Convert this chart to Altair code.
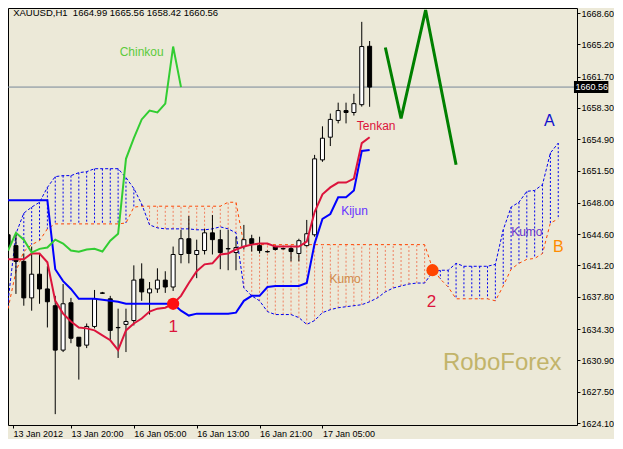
import altair as alt
import pandas as pd

# ---------------- data ----------------
opens = [1644.53, 1643.35, 1641.64, 1637.68, 1640.25, 1638.65, 1636.83, 1632.01, 1637.15, 1633.41,
         1632.55, 1634.58, 1638.22, 1637.58, 1634.47, 1634.80, 1635.22, 1639.72, 1638.22, 1638.65,
         1639.61, 1638.86, 1642.39, 1644.10, 1642.39, 1642.82, 1644.74, 1644.00, 1643.03, 1642.60,
         1643.25, 1644.10, 1643.35, 1642.71, 1643.25, 1643.03, 1643.03, 1642.50, 1643.35, 1644.53,
         1652.66, 1655.12, 1656.94, 1658.01, 1657.80, 1658.65, 1664.99]
highs = [1645.17, 1644.64, 1642.50, 1643.25, 1642.50, 1641.11, 1637.90, 1639.18, 1637.68, 1633.41,
         1634.90, 1638.54, 1638.33, 1637.90, 1636.51, 1636.51, 1641.21, 1641.43, 1639.40, 1640.89,
         1640.57, 1643.25, 1645.07, 1646.56, 1644.00, 1645.17, 1646.67, 1645.07, 1645.07, 1644.32,
         1645.60, 1644.53, 1644.32, 1642.82, 1643.35, 1643.14, 1643.25, 1644.10, 1646.14, 1653.20,
         1656.30, 1657.69, 1658.87, 1658.87, 1659.83, 1667.64, 1665.56]
lows = [1642.60, 1638.11, 1636.83, 1636.29, 1637.04, 1634.47, 1625.06, 1631.80, 1632.76, 1628.81,
        1632.23, 1634.37, 1638.11, 1633.08, 1631.16, 1631.80, 1634.69, 1637.36, 1635.87, 1638.22,
        1638.22, 1638.43, 1641.43, 1641.43, 1639.82, 1642.39, 1642.39, 1640.79, 1640.68, 1640.68,
        1642.93, 1642.71, 1642.50, 1642.60, 1642.82, 1642.93, 1641.64, 1641.64, 1643.25, 1644.32,
        1652.45, 1654.16, 1656.62, 1656.62, 1657.47, 1658.44, 1658.42]
closes = [1643.25, 1641.64, 1637.68, 1640.25, 1638.65, 1637.26, 1632.01, 1637.04, 1633.30, 1632.44,
          1634.58, 1637.58, 1638.18, 1634.15, 1634.44, 1635.12, 1639.61, 1638.33, 1638.65, 1639.61,
          1638.86, 1642.39, 1644.10, 1642.50, 1642.82, 1644.74, 1644.00, 1642.60, 1643.00, 1643.14,
          1644.00, 1643.57, 1642.82, 1642.68, 1642.93, 1643.00, 1642.71, 1643.89, 1644.64, 1652.77,
          1655.01, 1657.05, 1658.01, 1657.80, 1658.76, 1664.96, 1660.56]

tenkan = [1641.86, 1641.86, 1641.86, 1642.50, 1642.50, 1641.54, 1637.36, 1635.97, 1635.12, 1634.47,
          1634.37, 1634.15, 1633.62, 1633.08, 1632.01, 1634.15, 1634.90, 1635.44, 1636.19, 1636.51,
          1636.61, 1637.04, 1637.90, 1639.29, 1640.57, 1641.32, 1641.43, 1642.39, 1642.50, 1642.93,
          1643.25, 1643.46, 1643.57, 1643.57, 1643.25, 1643.25, 1643.25, 1643.25, 1643.78, 1646.99,
          1648.92, 1649.67, 1650.20, 1650.20, 1650.63, 1654.48, 1655.12]
kijun = [1648.27, 1648.27, 1648.27, 1648.27, 1648.27, 1648.27, 1640.79, 1639.50, 1638.65, 1637.58,
         1637.58, 1637.58, 1637.47, 1637.36, 1637.26, 1637.04, 1637.04, 1637.04, 1637.04, 1637.04,
         1637.04, 1637.04, 1636.29, 1635.76, 1635.97, 1635.97, 1635.97, 1635.97, 1635.97, 1636.08,
         1637.36, 1637.90, 1637.90, 1638.86, 1638.97, 1638.97, 1638.97, 1638.97, 1639.29, 1643.57,
         1646.24, 1646.78, 1648.60, 1648.60, 1649.34, 1653.62, 1653.73]

span_a = [1637.36, 1644.64, 1646.88, 1647.53, 1648.06, 1649.67, 1650.84, 1650.95, 1650.95, 1651.27,
          1651.38, 1651.70, 1651.70, 1651.70, 1651.70, 1650.73, 1649.56, 1647.85, 1645.60, 1645.28,
          1645.17, 1645.17, 1645.17, 1645.17, 1645.07, 1645.07, 1645.17, 1645.39, 1645.17, 1644.74,
          1638.75, 1637.90, 1637.36, 1636.19, 1635.87, 1635.87, 1635.87, 1635.54, 1634.80, 1635.22,
          1636.08, 1636.40, 1636.61, 1636.72, 1636.83, 1636.94, 1637.26, 1637.68, 1638.33, 1638.75,
          1638.97, 1639.18, 1639.29, 1639.29, 1640.47, 1640.68, 1640.68, 1641.43, 1641.11, 1641.11,
          1641.11, 1641.11, 1641.32, 1645.07, 1647.53, 1648.06, 1649.24, 1649.34, 1649.99, 1653.41,
          1654.48]
span_b = [1636.51, 1640.57, 1642.71, 1643.46, 1643.89, 1645.17, 1645.71, 1645.71, 1645.71, 1645.71,
          1645.71, 1645.71, 1645.71, 1645.71, 1645.71, 1645.81, 1647.53, 1647.63, 1647.63, 1647.63,
          1647.63, 1647.63, 1647.63, 1647.63, 1647.63, 1647.63, 1647.63, 1647.63, 1648.06, 1648.06,
          1643.46, 1643.46, 1643.46, 1643.46, 1643.46, 1643.46, 1643.46, 1643.46, 1643.46, 1643.46,
          1643.46, 1643.46, 1643.46, 1643.46, 1643.46, 1643.46, 1643.46, 1643.46, 1643.46, 1643.46,
          1643.46, 1643.46, 1643.46, 1643.46, 1640.89, 1639.72, 1638.86, 1637.58, 1637.58, 1637.58,
          1637.58, 1637.58, 1637.36, 1638.97, 1640.79, 1641.43, 1641.86, 1641.96, 1642.50, 1645.81,
          1646.24]
chinkou_shift = 24

proj_idx = [48, 50, 53.125, 57]
proj_price = [1664.86, 1657.15, 1668.92, 1652.13]

mark_idx = [21, 54]
mark_price = [1637.04, 1640.68]
mark_color = ["#FF1010", "#FF4500"]

x_tick_idx = [0, 8, 16, 24, 32, 40]
x_tick_lbl = ["13 Jan 2012", "13 Jan 20:00", "16 Jan 05:00", "16 Jan 13:00", "16 Jan 21:00", "17 Jan 05:00"]
y_ticks = [1668.60, 1665.20, 1661.70, 1658.30, 1654.90, 1651.50, 1648.00, 1644.60,
           1641.20, 1637.80, 1634.30, 1630.90, 1627.50, 1624.10]

header = "XAUUSD,H1\u00a0 {:.2f} {:.2f} {:.2f} {:.2f}".format(opens[-1], highs[-1], lows[-1], closes[-1])

left_text = [header, "Tenkan", "Kijun"]
left_idx = [0.65, 44.375, 42.375]
left_price = [1668.55, 1656.30, 1647.10]
left_color = ["#000000", "#DC143C", "#6633FF"]
left_size = [9.5, 12, 12]

ctr_text = ["Chinkou", "Kumo", "Kumo", "1", "2", "A", "B", "RoboForex"]
ctr_idx = [17, 42.875, 66, 21, 53.875, 68.875, 70, 62.875]
ctr_price = [1664.32, 1639.72, 1644.85, 1634.48, 1637.26, 1656.83, 1643.25, 1630.62]
ctr_color = ["#5CCB3C", "#D08A4A", "#6633CC", "#DC143C", "#DC143C", "#1010CC", "#FF8C00", "#C2B46A"]
ctr_size = [12, 12, 12, 17, 17, 16, 16, 24]

# ---------------- frames ----------------
n = len(opens)
candles = pd.DataFrame({
    "idx": list(range(n)), "open": opens, "high": highs, "low": lows, "close": closes,
})
candles["fill"] = ["#FFFFFF" if c >= o else "#000000" for o, c in zip(opens, closes)]
ind = pd.DataFrame({"idx": list(range(n)), "tenkan": tenkan, "kijun": kijun})
cloud = pd.DataFrame({"idx": list(range(len(span_a))), "a": span_a, "b": span_b})
cloud["hcol"] = ["#0000EE" if a >= b else "#F08060" for a, b in zip(span_a, span_b)]
chin = pd.DataFrame({"idx": list(range(n - chinkou_shift)), "v": closes[chinkou_shift:]})
proj = pd.DataFrame({"idx": proj_idx, "v": proj_price})
marks = pd.DataFrame({"idx": mark_idx, "v": mark_price, "c": mark_color})
ltxt = pd.DataFrame({"idx": left_idx, "v": left_price, "t": left_text, "c": left_color, "s": left_size})
ctxt = pd.DataFrame({"idx": ctr_idx, "v": ctr_price, "t": ctr_text, "c": ctr_color, "s": ctr_size})

# ---------------- scales ----------------
BAR_PX = 8.0
W, H = 569, 417
PAD_R, PAD_B = 37, 14
x_min = 0.625
x_dom = [x_min, x_min + W / BAR_PX]
PX_PER_USD = (423 - 13) / (y_ticks[0] - y_ticks[-1])
y_top = y_ticks[0] + 5 / PX_PER_USD
y_dom = [y_top - H / PX_PER_USD, y_top]
xs = alt.Scale(domain=x_dom, nice=False, zero=False)
ys = alt.Scale(domain=y_dom, nice=False, zero=False)

tick_vals = [max(v, x_min) for v in x_tick_idx]
expr = " : ".join(f"abs(datum.value - {v}) < 0.01 ? '{l}'" for v, l in zip(tick_vals, x_tick_lbl)) + " : ''"
x_axis = alt.Axis(values=tick_vals, labelExpr=expr, title=None, grid=False, domain=False,
                  tickSize=3, labelPadding=1, labelAlign="left", labelBaseline="top",
                  labelFlush=False, labelOverlap=False)
y_axis = alt.Axis(values=y_ticks, format=".2f", orient="right", title=None, grid=False,
                  domain=False, tickSize=3, labelPadding=1, labelOverlap=False, labelFlush=False)

def X(f):
    return alt.X(f, type="quantitative", scale=xs, axis=x_axis)

def Y(f):
    return alt.Y(f, type="quantitative", scale=ys, axis=y_axis)

hatch = alt.Chart(cloud).mark_rule(strokeDash=[2, 2], strokeWidth=1, clip=True).encode(
    x=X("idx"), y=Y("a"), y2="b", color=alt.Color("hcol:N", scale=None))
line_a = alt.Chart(cloud).mark_line(color="#0000EE", strokeDash=[3, 2], strokeWidth=1, clip=True).encode(
    x=X("idx"), y=Y("a"))
line_b = alt.Chart(cloud).mark_line(color="#FF4500", strokeDash=[3, 3], strokeWidth=1, clip=True).encode(
    x=X("idx"), y=Y("b"))
price_line = alt.Chart(pd.DataFrame({"v": [closes[-1]]})).mark_rule(color="#778899", strokeWidth=1).encode(
    y=Y("v"))
wicks = alt.Chart(candles).mark_rule(color="black", strokeWidth=1, clip=True).encode(
    x=X("idx"), y=Y("low"), y2="high")
bodies = alt.Chart(candles).mark_bar(size=4, stroke="black", strokeWidth=1, clip=True).encode(
    x=X("idx"), y=Y("open"), y2="close", fill=alt.Fill("fill:N", scale=None))
kij = alt.Chart(ind).mark_line(color="#0000FF", strokeWidth=2, clip=True).encode(x=X("idx"), y=Y("kijun"))
ten = alt.Chart(ind).mark_line(color="#DC143C", strokeWidth=2, clip=True).encode(x=X("idx"), y=Y("tenkan"))
chk = alt.Chart(chin).mark_line(color="#32CD32", strokeWidth=2, clip=True).encode(x=X("idx"), y=Y("v"))
prj = alt.Chart(proj).mark_line(color="#008000", strokeWidth=3, strokeJoin="bevel", clip=True).encode(
    x=X("idx"), y=Y("v"))
pts = alt.Chart(marks).mark_circle(size=150, opacity=1).encode(
    x=X("idx"), y=Y("v"), color=alt.Color("c:N", scale=None))
t_left = alt.Chart(ltxt).mark_text(align="left", baseline="middle", font="Liberation Sans").encode(
    x=X("idx"), y=Y("v"), text="t:N", color=alt.Color("c:N", scale=None), size=alt.Size("s:Q", scale=None))
t_ctr = alt.Chart(ctxt).mark_text(align="center", baseline="middle", font="Liberation Sans").encode(
    x=X("idx"), y=Y("v"), text="t:N", color=alt.Color("c:N", scale=None), size=alt.Size("s:Q", scale=None))

# current price box on the right axis
box_df = pd.DataFrame({"x1": [x_dom[1] + 0.25], "x2": [x_dom[1] + PAD_R / BAR_PX],
                       "y1": [closes[-1] + 0.66], "y2": [closes[-1] - 0.63],
                       "tx": [x_dom[1] + 0.45], "v": [closes[-1]], "t": [f"{closes[-1]:.2f}"]})
box = alt.Chart(box_df).mark_rect(color="black").encode(x=X("x1"), x2="x2", y=Y("y1"), y2="y2")
box_t = alt.Chart(box_df).mark_text(align="left", baseline="middle", color="white", fontSize=9,
                                     font="Liberation Sans").encode(x=X("tx"), y=Y("v"), text="t:N")

chart = alt.layer(hatch, line_a, line_b, price_line, wicks, bodies, kij, ten, chk, prj, pts,
                  t_left, t_ctr, box, box_t).properties(
    width=W, height=H, padding={"left": 0, "top": 0, "right": PAD_R, "bottom": PAD_B},
    autosize=alt.AutoSizeParams(type="none"),
    background="#ECE9D8",
).configure_view(stroke="black", strokeWidth=1).configure_axis(
    labelFont="Liberation Sans", labelFontSize=9, labelColor="black", tickColor="black", tickWidth=1)

chart.save("out.html", embed_options={"renderer": "svg", "actions": False})
